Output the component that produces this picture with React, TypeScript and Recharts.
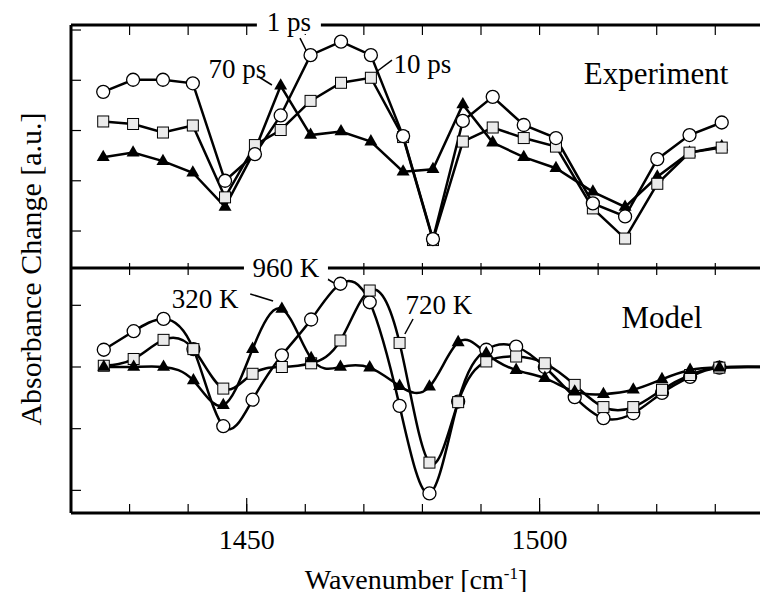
import React from 'react';
import { LineChart, Line, XAxis, YAxis, ReferenceLine, ReferenceDot } from 'recharts';

const SERIF = "'Liberation Serif', 'DejaVu Serif', 'Noto Serif', Tinos, 'Nimbus Roman', 'Times New Roman', Times, FreeSerif, serif";

// Experiment (pump-probe delays)
const expWavenumber = [1425.5, 1430.6, 1435.7, 1440.8, 1446.3, 1451.4, 1455.8, 1460.9, 1466.1, 1471.2, 1476.7, 1481.8, 1486.9, 1492.0, 1497.3, 1502.8, 1509.1, 1514.6, 1520.1, 1525.6, 1531.1];
const exp1ps = [2.77, 3.01, 3.01, 2.94, 1.0, 1.53, 2.3, 3.5, 3.77, 3.5, 1.89, -0.16, 2.19, 2.67, 2.11, 1.85, 0.55, 0.29, 1.43, 1.91, 2.16];
const exp10ps = [2.18, 2.13, 1.96, 2.1, 0.67, 1.71, 2.01, 2.59, 2.95, 3.05, 1.87, -0.18, 1.78, 2.06, 1.85, 1.68, 0.45, -0.15, 0.94, 1.56, 1.66];
const exp70ps = [1.47, 1.56, 1.39, 1.16, 0.48, 1.61, 2.89, 1.91, 1.98, 1.78, 1.18, 1.23, 2.52, 1.76, 1.47, 1.25, 0.78, 0.48, 1.08, 1.56, 1.68];

// Model (temperatures); last entry is where the flat line leaves the frame
const modelWavenumber = [1425.6, 1430.7, 1435.8, 1440.9, 1446.0, 1451.0, 1456.0, 1461.0, 1466.0, 1471.0, 1476.1, 1481.2, 1486.1, 1490.9, 1496.0, 1500.9, 1506.0, 1510.9, 1516.0, 1520.9, 1525.7, 1530.7, 1539];
const model960K = [0.28, 0.58, 0.78, 0.29, -0.96, -0.53, 0.19, 0.77, 1.35, 1.05, -0.63, -2.05, -0.56, 0.28, 0.33, 0.0, -0.49, -0.83, -0.75, -0.42, -0.16, -0.01, 0];
const model720K = [0.02, 0.13, 0.44, 0.29, -0.35, -0.11, 0.0, 0.06, 0.43, 1.24, 0.39, -1.55, -0.57, 0.09, 0.17, 0.06, -0.29, -0.65, -0.65, -0.37, -0.13, -0.01, 0];
const model320K = [0.0, 0.0, 0.0, -0.22, -0.62, 0.29, 0.94, 0.14, 0.0, -0.01, -0.31, -0.32, 0.4, 0.22, -0.05, -0.18, -0.4, -0.44, -0.37, -0.2, -0.05, -0.01, 0];

const wavenumberTicks = [1430, 1440, 1450, 1460, 1470, 1480, 1490, 1500, 1510, 1520, 1530];
const labelTicks = [1450, 1500];
const expYTicks = [0, 1, 2, 3, 4];
const modelYTicks = [-2, -1, 0, 1];
const xDomain: [number, number] = [1420, 1539];
const expDomain: [number, number] = [-0.736, 4.1];
const modelDomain: [number, number] = [-2.367, 1.605];

const expNotes = [
  { text: '1 ps', x: 1457.2, y: 4.16, size: 27, box: 64 },
  { text: '70 ps', x: 1448.4, y: 3.22, size: 27, box: 0 },
  { text: '10 ps', x: 1480.0, y: 3.32, size: 27, box: 0 },
  { text: 'Experiment', x: 1519.9, y: 3.125, size: 31, box: 0 },
];
const expLeaders = [
  [{ x: 1459.1, y: 3.84 }, { x: 1460.3, y: 3.56 }],
  [{ x: 1452.1, y: 3.065 }, { x: 1454.3, y: 2.906 }],
  [{ x: 1474.8, y: 3.4 }, { x: 1472.1, y: 3.165 }],
];
const modelNotes = [
  { text: '960 K', x: 1456.7, y: 1.605, size: 27, box: 84 },
  { text: '320 K', x: 1442.9, y: 1.102, size: 27, box: 0 },
  { text: '720 K', x: 1482.8, y: 1.005, size: 27, box: 0 },
  { text: 'Model', x: 1520.9, y: 0.8, size: 31, box: 0 },
];
const modelLeaders = [
  [{ x: 1463.2, y: 1.459 }, { x: 1464.9, y: 1.362 }],
  [{ x: 1450.6, y: 1.184 }, { x: 1454.5, y: 1.07 }],
  [{ x: 1478.4, y: 0.778 }, { x: 1477.0, y: 0.535 }],
];

const toPoints = (xs: number[], ys: number[]) => xs.map((x, i) => ({ x, y: ys[i] }));

const hidden = (p: any) => p.cx == null || p.cy == null || (p.payload && p.payload.x >= 1539);

const circleDot = (p: any) =>
  hidden(p) ? <g key={p.index} /> : <circle key={p.index} cx={p.cx} cy={p.cy} r={6.5} fill="#fff" stroke="#000" strokeWidth={1.3} />;

const squareDot = (p: any) =>
  hidden(p) ? <g key={p.index} /> : <rect key={p.index} x={p.cx - 5.5} y={p.cy - 5.5} width={11} height={11} fill="#ebebeb" stroke="#000" strokeWidth={1} />;

const triangleDot = (p: any) =>
  hidden(p) ? (
    <g key={p.index} />
  ) : (
    <polygon key={p.index} points={`${p.cx},${p.cy - 7.5} ${p.cx - 6.5},${p.cy + 3.8} ${p.cx + 6.5},${p.cy + 3.8}`} fill="#000" />
  );

const noteShape = (n: { text: string; size: number; box: number }) => (p: any) => (
  <g>
    {n.box > 0 && <rect x={p.cx - n.box / 2} y={p.cy - 12} width={n.box} height={24} fill="#fff" />}
    <text x={p.cx} y={p.cy} textAnchor="middle" dominantBaseline="central" fontFamily={SERIF} fontSize={n.size} fill="#000">
      {n.text}
    </text>
  </g>
);

const axisLine = { stroke: '#000', strokeWidth: 3 };
const tickLine = { stroke: '#000', strokeWidth: 1.2 };
const blank = () => '';

export default function App() {
  return (
    <div style={{ position: 'relative', width: 760, height: 592, marginBottom: -8, overflow: 'hidden', background: '#fff' }}>
      <div style={{ position: 'absolute', left: 0, top: 0 }}>
        <LineChart width={760} height={260} margin={{ top: 17, right: 0, bottom: 0, left: 63 }}>
          <XAxis xAxisId="x" orientation="top" mirror height={1} type="number" dataKey="x" domain={xDomain} ticks={wavenumberTicks} tickSize={10} tickFormatter={blank} axisLine={axisLine} tickLine={tickLine} allowDataOverflow />
          <YAxis yAxisId="y" orientation="left" mirror width={1} type="number" domain={expDomain} ticks={expYTicks} tickSize={10} tickFormatter={blank} axisLine={axisLine} tickLine={tickLine} allowDataOverflow />
          <Line xAxisId="x" yAxisId="y" data={toPoints(expWavenumber, exp70ps)} dataKey="y" type="linear" stroke="#000" strokeWidth={2.5} dot={triangleDot} activeDot={false} isAnimationActive={false} />
          <Line xAxisId="x" yAxisId="y" data={toPoints(expWavenumber, exp10ps)} dataKey="y" type="linear" stroke="#000" strokeWidth={2.5} dot={squareDot} activeDot={false} isAnimationActive={false} />
          <Line xAxisId="x" yAxisId="y" data={toPoints(expWavenumber, exp1ps)} dataKey="y" type="linear" stroke="#000" strokeWidth={2.5} dot={circleDot} activeDot={false} isAnimationActive={false} />
          {expLeaders.map((s, i) => (
            <ReferenceLine key={'l' + i} xAxisId="x" yAxisId="y" segment={s} stroke="#000" strokeWidth={1.5} ifOverflow="visible" />
          ))}
          {expNotes.map((n) => (
            <ReferenceDot key={n.text} xAxisId="x" yAxisId="y" x={n.x} y={n.y} r={0} ifOverflow="visible" zIndex={3000} shape={noteShape(n)} />
          ))}
        </LineChart>
      </div>
      <div style={{ position: 'absolute', left: 0, top: 230 }}>
        <LineChart width={760} height={354} margin={{ top: 30, right: 0, bottom: 0, left: 63 }}>
          <XAxis xAxisId="up" orientation="top" mirror height={1} type="number" dataKey="x" domain={xDomain} ticks={wavenumberTicks} tickSize={-6} tickFormatter={blank} axisLine={false} tickLine={tickLine} allowDataOverflow />
          <XAxis xAxisId="down" orientation="top" mirror height={1} type="number" dataKey="x" domain={xDomain} ticks={wavenumberTicks} tickSize={7} tickFormatter={blank} axisLine={axisLine} tickLine={tickLine} allowDataOverflow />
          <XAxis xAxisId="x" orientation="bottom" height={79} type="number" dataKey="x" domain={xDomain} ticks={labelTicks} tickSize={0} tickMargin={16} tickLine={false} axisLine={axisLine} tick={{ fontSize: 28, fontFamily: SERIF, fill: '#000' }} allowDataOverflow />
          <XAxis xAxisId="minor" orientation="bottom" mirror height={1} type="number" dataKey="x" domain={xDomain} ticks={wavenumberTicks} tickSize={8} tickFormatter={blank} axisLine={false} tickLine={tickLine} allowDataOverflow />
          <XAxis xAxisId="major" orientation="bottom" mirror height={1} type="number" dataKey="x" domain={xDomain} ticks={labelTicks} tickSize={15} tickFormatter={blank} axisLine={false} tickLine={tickLine} allowDataOverflow />
          <YAxis yAxisId="y" orientation="left" mirror width={1} type="number" domain={modelDomain} ticks={modelYTicks} tickSize={10} tickFormatter={blank} axisLine={axisLine} tickLine={tickLine} allowDataOverflow />
          <Line xAxisId="x" yAxisId="y" data={toPoints(modelWavenumber, model960K)} dataKey="y" type="natural" stroke="#000" strokeWidth={2.5} dot={circleDot} activeDot={false} isAnimationActive={false} />
          <Line xAxisId="x" yAxisId="y" data={toPoints(modelWavenumber, model720K)} dataKey="y" type="natural" stroke="#000" strokeWidth={2.5} dot={squareDot} activeDot={false} isAnimationActive={false} />
          <Line xAxisId="x" yAxisId="y" data={toPoints(modelWavenumber, model320K)} dataKey="y" type="natural" stroke="#000" strokeWidth={2.5} dot={triangleDot} activeDot={false} isAnimationActive={false} />
          {modelLeaders.map((s, i) => (
            <ReferenceLine key={'l' + i} xAxisId="x" yAxisId="y" segment={s} stroke="#000" strokeWidth={1.5} ifOverflow="visible" />
          ))}
          {modelNotes.map((n) => (
            <ReferenceDot key={n.text} xAxisId="x" yAxisId="y" x={n.x} y={n.y} r={0} ifOverflow="visible" zIndex={3000} shape={noteShape(n)} />
          ))}
        </LineChart>
      </div>
      <div
        style={{
          position: 'absolute',
          left: 23,
          top: 261,
          transform: 'translate(-50%, -50%) rotate(-90deg)',
          whiteSpace: 'nowrap',
          fontFamily: SERIF,
          fontSize: 30,
          color: '#000',
        }}
      >
        Absorbance Change [a.u.]
      </div>
      <div
        style={{
          position: 'absolute',
          left: 408,
          top: 572,
          transform: 'translate(-50%, -50%)',
          whiteSpace: 'nowrap',
          fontFamily: SERIF,
          fontSize: 28,
          lineHeight: '30px',
          color: '#000',
        }}
      >
        Wavenumber [cm<sup style={{ fontSize: 17, lineHeight: 0 }}>-1</sup>]
      </div>
    </div>
  );
}
